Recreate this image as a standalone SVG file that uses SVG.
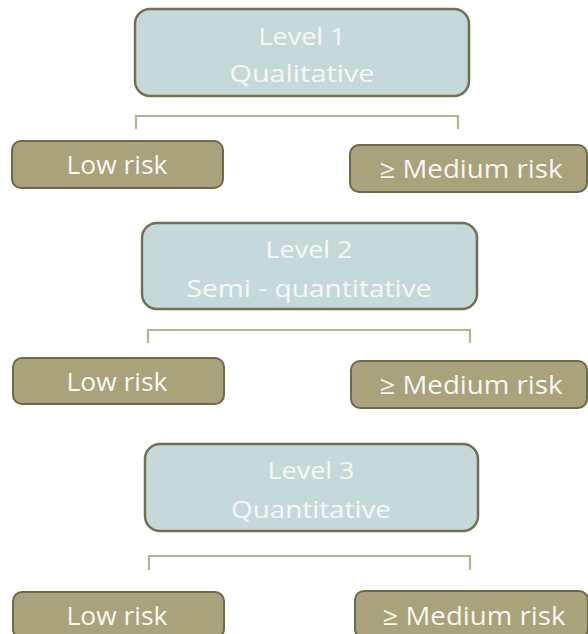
<svg xmlns="http://www.w3.org/2000/svg" width="588" height="634" viewBox="0 0 588 634">
<style>
.lvl{fill:#c6d9da;stroke:#6f7152;stroke-width:2.5}
.risk{fill:#a9a27a;stroke:#6c6a48;stroke-width:2}
.t{font-family:"Open Sans",Lato,sans-serif;fill:#f6f8f3;text-anchor:middle}
.tl{font-size:24px}
.tr{font-size:25px}
.br{fill:none;stroke:#b7b491;stroke-width:2.2}
</style>
<rect width="588" height="634" fill="#ffffff"/>
<g id="connectors">
<path class="br" d="M136,129 V116 H458 V129"/>
<path class="br" d="M148,343 V330 H470 V343"/>
<path class="br" d="M149,570 V556 H470 V570"/>
</g>
<g id="level1"><rect class="lvl" x="135" y="9" width="334" height="87" rx="15"/>
<text class="t tl" x="302" y="45" textLength="87" lengthAdjust="spacingAndGlyphs">Level 1</text><text class="t tl" x="302" y="82" textLength="145" lengthAdjust="spacingAndGlyphs">Qualitative</text></g>
<g id="low1"><rect class="risk" x="12" y="141" width="211" height="47" rx="9"/>
<text class="t tr" x="117" y="174" textLength="101" lengthAdjust="spacingAndGlyphs">Low risk</text></g>
<g id="med1"><rect class="risk" x="350" y="145" width="237" height="47" rx="9"/>
<text class="t tr" x="471" y="178" textLength="183" lengthAdjust="spacingAndGlyphs">≥ Medium risk</text></g>
<g id="level2"><rect class="lvl" x="142" y="223" width="335" height="86" rx="15"/>
<text class="t tl" x="309" y="258" textLength="87" lengthAdjust="spacingAndGlyphs">Level 2</text><text class="t tl" x="309" y="297" textLength="245" lengthAdjust="spacingAndGlyphs">Semi - quantitative</text></g>
<g id="low2"><rect class="risk" x="13" y="358" width="211" height="46" rx="9"/>
<text class="t tr" x="117" y="391" textLength="101" lengthAdjust="spacingAndGlyphs">Low risk</text></g>
<g id="med2"><rect class="risk" x="351" y="361" width="236" height="47" rx="9"/>
<text class="t tr" x="471" y="394" textLength="183" lengthAdjust="spacingAndGlyphs">≥ Medium risk</text></g>
<g id="level3"><rect class="lvl" x="145" y="444" width="333" height="87" rx="15"/>
<text class="t tl" x="311" y="479" textLength="87" lengthAdjust="spacingAndGlyphs">Level 3</text><text class="t tl" x="311" y="518" textLength="160" lengthAdjust="spacingAndGlyphs">Quantitative</text></g>
<g id="low3"><rect class="risk" x="13" y="592" width="211" height="46" rx="9"/>
<text class="t tr" x="117" y="625" textLength="101" lengthAdjust="spacingAndGlyphs">Low risk</text></g>
<g id="med3"><rect class="risk" x="355" y="591" width="233" height="47" rx="9"/>
<text class="t tr" x="474" y="625" textLength="183" lengthAdjust="spacingAndGlyphs">≥ Medium risk</text></g>
</svg>
